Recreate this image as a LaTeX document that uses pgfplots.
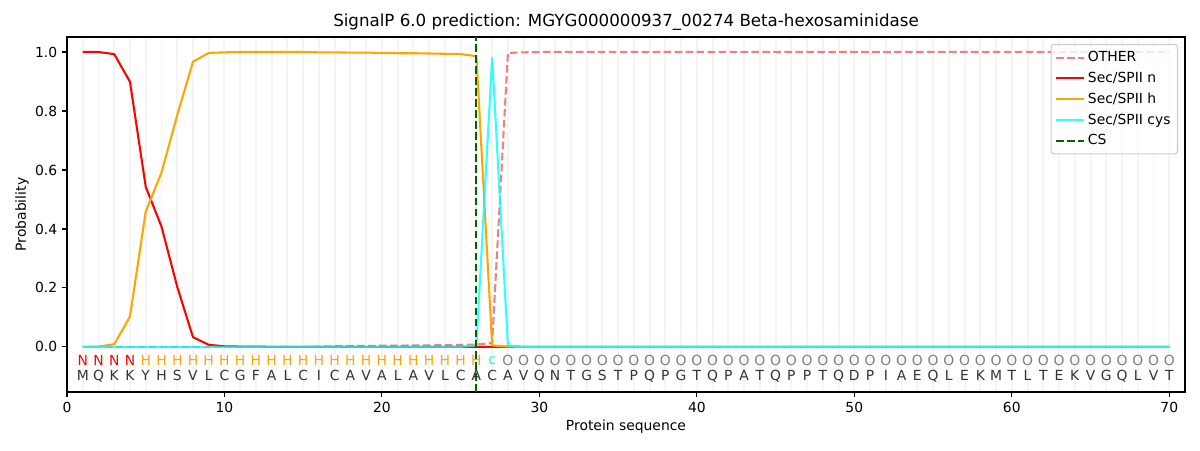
\documentclass[border=0pt]{standalone}
\usepackage{pgfplots}
\pgfplotsset{compat=1.18}
\usepackage{pgfplotstable}
\usepackage{fontspec}
\setmainfont{DejaVu Sans}
\definecolor{other}{HTML}{F08080}
\definecolor{secn}{HTML}{FF0000}
\definecolor{sech}{HTML}{FFA500}
\definecolor{secc}{HTML}{00FFFF}
\definecolor{cs}{HTML}{006400}
\definecolor{gridc}{HTML}{F4F4F4}

\pgfplotstableread{
x other n h c
1 0.000 1.000 0.000 0.000
2 0.000 1.000 0.001 0.000
3 0.000 0.993 0.009 0.000
4 0.000 0.899 0.103 0.000
5 0.000 0.543 0.459 0.000
6 0.000 0.408 0.591 0.000
7 0.000 0.204 0.786 0.000
8 0.000 0.033 0.967 0.000
9 0.000 0.007 0.997 0.000
10 0.000 0.002 0.999 0.000
11 0.000 0.001 1.000 0.000
12 0.000 0.001 1.000 0.000
13 0.000 0.000 1.000 0.000
14 0.000 0.000 1.000 0.000
15 0.000 0.000 1.000 0.000
16 0.001 0.000 0.999 0.000
17 0.002 0.000 0.999 0.000
18 0.003 0.000 0.998 0.000
19 0.003 0.000 0.998 0.000
20 0.004 0.000 0.997 0.000
21 0.004 0.000 0.996 0.000
22 0.005 0.000 0.996 0.000
23 0.005 0.000 0.995 0.000
24 0.006 0.000 0.994 0.000
25 0.007 0.000 0.993 0.000
26 0.008 0.000 0.986 0.005
27 0.013 0.000 0.005 0.982
28 0.997 0.000 0.001 0.005
29 0.999 0.000 0.000 0.000
30 1.000 0.000 0.000 0.000
31 1.000 0.000 0.000 0.000
32 1.000 0.000 0.000 0.000
33 1.000 0.000 0.000 0.000
34 1.000 0.000 0.000 0.000
35 1.000 0.000 0.000 0.000
36 1.000 0.000 0.000 0.000
37 1.000 0.000 0.000 0.000
38 1.000 0.000 0.000 0.000
39 1.000 0.000 0.000 0.000
40 1.000 0.000 0.000 0.000
41 1.000 0.000 0.000 0.000
42 1.000 0.000 0.000 0.000
43 1.000 0.000 0.000 0.000
44 1.000 0.000 0.000 0.000
45 1.000 0.000 0.000 0.000
46 1.000 0.000 0.000 0.000
47 1.000 0.000 0.000 0.000
48 1.000 0.000 0.000 0.000
49 1.000 0.000 0.000 0.000
50 1.000 0.000 0.000 0.000
51 1.000 0.000 0.000 0.000
52 1.000 0.000 0.000 0.000
53 1.000 0.000 0.000 0.000
54 1.000 0.000 0.000 0.000
55 1.000 0.000 0.000 0.000
56 1.000 0.000 0.000 0.000
57 1.000 0.000 0.000 0.000
58 1.000 0.000 0.000 0.000
59 1.000 0.000 0.000 0.000
60 1.000 0.000 0.000 0.000
61 1.000 0.000 0.000 0.000
62 1.000 0.000 0.000 0.000
63 1.000 0.000 0.000 0.000
64 1.000 0.000 0.000 0.000
65 1.000 0.000 0.000 0.000
66 1.000 0.000 0.000 0.000
67 1.000 0.000 0.000 0.000
68 1.000 0.000 0.000 0.000
69 1.000 0.000 0.000 0.000
70 1.000 0.000 0.000 0.000
}\probs

% residues: position, amino acid
\pgfplotstableread{
x y aa
1 -0.098 M
2 -0.098 Q
3 -0.098 K
4 -0.098 K
5 -0.098 Y
6 -0.098 H
7 -0.098 S
8 -0.098 V
9 -0.098 L
10 -0.098 C
11 -0.098 G
12 -0.098 F
13 -0.098 A
14 -0.098 L
15 -0.098 C
16 -0.098 I
17 -0.098 C
18 -0.098 A
19 -0.098 V
20 -0.098 A
21 -0.098 L
22 -0.098 A
23 -0.098 V
24 -0.098 L
25 -0.098 C
26 -0.098 A
27 -0.098 C
28 -0.098 A
29 -0.098 V
30 -0.098 Q
31 -0.098 N
32 -0.098 T
33 -0.098 G
34 -0.098 S
35 -0.098 T
36 -0.098 P
37 -0.098 Q
38 -0.098 P
39 -0.098 G
40 -0.098 T
41 -0.098 Q
42 -0.098 P
43 -0.098 A
44 -0.098 T
45 -0.098 Q
46 -0.098 P
47 -0.098 P
48 -0.098 T
49 -0.098 Q
50 -0.098 D
51 -0.098 P
52 -0.098 I
53 -0.098 A
54 -0.098 E
55 -0.098 Q
56 -0.098 L
57 -0.098 E
58 -0.098 K
59 -0.098 M
60 -0.098 T
61 -0.098 L
62 -0.098 T
63 -0.098 E
64 -0.098 K
65 -0.098 V
66 -0.098 G
67 -0.098 Q
68 -0.098 L
69 -0.098 V
70 -0.098 T
}\seq

\pgfplotstableread{
x y l
1 -0.047 N
2 -0.047 N
3 -0.047 N
4 -0.047 N
}\labN
\pgfplotstableread{
x y l
5 -0.047 H
6 -0.047 H
7 -0.047 H
8 -0.047 H
9 -0.047 H
10 -0.047 H
11 -0.047 H
12 -0.047 H
13 -0.047 H
14 -0.047 H
15 -0.047 H
16 -0.047 H
17 -0.047 H
18 -0.047 H
19 -0.047 H
20 -0.047 H
21 -0.047 H
22 -0.047 H
23 -0.047 H
24 -0.047 H
25 -0.047 H
26 -0.047 H
}\labH
\pgfplotstableread{
x y l
27 -0.047 c
}\labC
\pgfplotstableread{
x y l
28 -0.047 O
29 -0.047 O
30 -0.047 O
31 -0.047 O
32 -0.047 O
33 -0.047 O
34 -0.047 O
35 -0.047 O
36 -0.047 O
37 -0.047 O
38 -0.047 O
39 -0.047 O
40 -0.047 O
41 -0.047 O
42 -0.047 O
43 -0.047 O
44 -0.047 O
45 -0.047 O
46 -0.047 O
47 -0.047 O
48 -0.047 O
49 -0.047 O
50 -0.047 O
51 -0.047 O
52 -0.047 O
53 -0.047 O
54 -0.047 O
55 -0.047 O
56 -0.047 O
57 -0.047 O
58 -0.047 O
59 -0.047 O
60 -0.047 O
61 -0.047 O
62 -0.047 O
63 -0.047 O
64 -0.047 O
65 -0.047 O
66 -0.047 O
67 -0.047 O
68 -0.047 O
69 -0.047 O
70 -0.047 O
}\labO

\begin{document}
\begin{tikzpicture}[x=1pt,y=1pt]
\begin{axis}[
  name=ax,
  scale only axis,
  width=804.96pt, height=255.6pt,
  xmin=0, xmax=71, ymin=-0.153, ymax=1.051,
  xtick={0,10,...,70},
  ytick={0,0.2,...,1.0},
  minor xtick={1,...,70},
  xminorgrids=true,
  minor grid style={gridc, line width=1.4pt},
  minor tick length=0pt,
  tick align=outside,
  major tick length=3.5pt,
  tick style={black, line width=0.8pt},
  xtick pos=bottom, ytick pos=left,
  axis line style={line width=0.8pt},
  tick label style={font=\fontsize{10}{12}\selectfont},
  /pgf/number format/assume math mode=true,
  yticklabel style={/pgf/number format/.cd, fixed, fixed zerofill, precision=1},
  xticklabel style={/pgf/number format/.cd, fixed, precision=0},
  label style={font=\fontsize{10}{12}\selectfont},
  xlabel={Protein sequence},
  ylabel={Probability},
  xlabel style={at={(0.5,0)}, anchor=center, yshift=-25.2pt},
  ylabel style={at={(0,0.5)}, anchor=center, yshift=32.4pt},
  legend style={at={(1,1)}, anchor=north east, xshift=-5pt, yshift=-5pt,
    font=\fontsize{10}{12}\selectfont, draw=black!20, rounded corners=2pt,
    fill=white, fill opacity=0.8, text opacity=1, line width=0.8pt,
    row sep=2pt, inner sep=3pt},
  legend cell align=left,
  legend image code/.code={\draw[#1] (0pt,0pt) -- (20pt,0pt);},
  clip=false,
]
\addplot[other, dashed, dash pattern=on 5.5pt off 2.4pt, line width=1.5pt] table[x=x, y=other] {\probs};
\addlegendentry{OTHER}
\addplot[secn, line width=1.5pt] table[x=x, y=n] {\probs};
\addlegendentry{Sec/SPII n}
\addplot[sech, line width=1.5pt] table[x=x, y=h] {\probs};
\addlegendentry{Sec/SPII h}
\addplot[secc, line width=1.5pt, opacity=0.8] table[x=x, y=c] {\probs};
\addlegendentry{Sec/SPII cys}
\addplot[cs, dashed, dash pattern=on 5.5pt off 2.4pt, line width=1.5pt] coordinates {(26,-0.153) (26,1.051)};
\addlegendentry{CS}

\pgfplotsset{every axis plot/.append style={forget plot}}
\addplot[draw=none, mark=none, nodes near coords, point meta=explicit symbolic,
  nodes near coords style={anchor=center, text=black!80, font=\fontsize{10}{12}\selectfont}]
  table[x=x, y=y, meta=aa] {\seq};
\addplot[draw=none, mark=none, nodes near coords, point meta=explicit symbolic,
  nodes near coords style={anchor=center, text=secn, font=\fontsize{10}{12}\selectfont}]
  table[x=x, y=y, meta=l] {\labN};
\addplot[draw=none, mark=none, nodes near coords, point meta=explicit symbolic,
  nodes near coords style={anchor=center, text=sech, font=\fontsize{10}{12}\selectfont}]
  table[x=x, y=y, meta=l] {\labH};
\addplot[draw=none, mark=none, nodes near coords, point meta=explicit symbolic,
  nodes near coords style={anchor=center, text=secc, font=\fontsize{10}{12}\selectfont}]
  table[x=x, y=y, meta=l] {\labC};
\addplot[draw=none, mark=none, nodes near coords, point meta=explicit symbolic,
  nodes near coords style={anchor=center, text=gray, font=\fontsize{10}{12}\selectfont}]
  table[x=x, y=y, meta=l] {\labO};
\end{axis}
\node[font=\fontsize{12}{14}\selectfont, anchor=center] at ([yshift=10.8pt]ax.north) {SignalP 6.0 prediction: MGYG000000937\_00274 Beta-hexosaminidase};
\path[use as bounding box] ([xshift=-48.24pt,yshift=-41.76pt]ax.south west) rectangle ([xshift=10.8pt,yshift=26.64pt]ax.north east);
\end{tikzpicture}
\end{document}
